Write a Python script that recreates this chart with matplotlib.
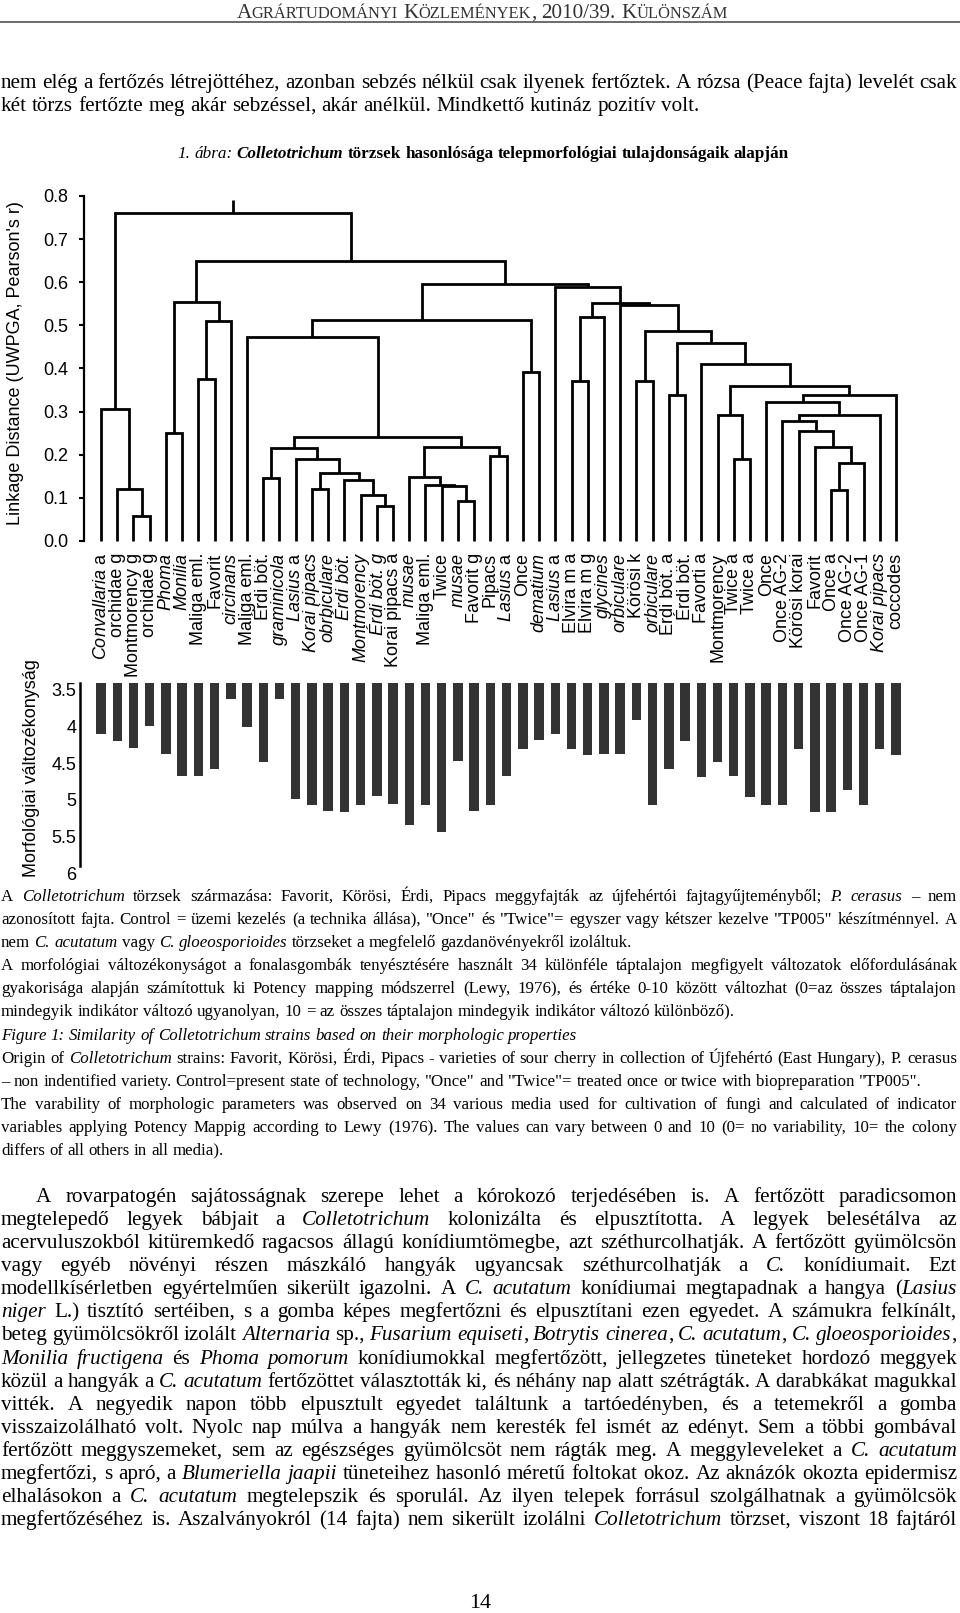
import numpy as np
import matplotlib
matplotlib.use("Agg")
import matplotlib.pyplot as plt
from matplotlib.font_manager import FontProperties
from matplotlib.transforms import blended_transform_factory, ScaledTranslation

plt.rcParams['font.family'] = 'Liberation Sans'
plt.rcParams['mathtext.fontset'] = 'custom'
plt.rcParams['mathtext.it'] = 'Liberation Sans:italic'
plt.rcParams['mathtext.rm'] = 'Liberation Sans'

# strains in the leaf order of the tree
strains = ["Convallaria a", "orchidae g", "Montmorency g", "orchidae g", "Phoma", "Monilia",
           "Maliga eml.", "Favorit", "circinans", "Maliga eml.", "Érdi böt.", "graminicola",
           "Lasius a", "Korai pipacs", "obrbiculare", "Érdi böt.", "Montmorency", "Érdi böt. g",
           "Korai pipacs a", "musae", "Maliga eml.", "Twice", "musae", "Favorit g",
           "Pipacs", "Lasius a", "Once", "dematium", "Lasius a", "Elvira m a", "Elvira m g",
           "glycines", "orbiculare", "Körösi k", "orbiculare", "Érdi böt. a", "Érdi böt.",
           "Favorti a", "Montmorency", "Twice a", "Twice a", "Once", "Once AG-2",
           "Körösi korai", "Favorit", "Once a", "Once AG-2", "Once AG-1", "Korai pipacs", "coccodes"]
# 0 = upright, 1 = first word italic, 2 = all italic
strain_italic = [1, 0, 0, 0, 2, 2,
                 0, 0, 2, 0, 0, 2,
                 1, 2, 2, 2, 2, 2,
                 0, 2, 0, 0, 2, 0,
                 0, 1, 0, 2, 1, 0, 0,
                 2, 2, 0, 2, 0, 0,
                 0, 0, 0, 0, 0, 0,
                 0, 0, 0, 0, 0, 2, 0]

# UPGMA merges: (child a, child b, linkage distance)
# 0..49 are strains, 50 + k is the cluster made in row k
links = [(2, 3, 0.058), (1, 50, 0.120), (0, 51, 0.306),
         (4, 5, 0.250), (6, 7, 0.375), (54, 8, 0.509), (53, 55, 0.555),
         (17, 18, 0.080), (16, 57, 0.107), (15, 58, 0.1415), (13, 14, 0.121),
         (60, 59, 0.158), (12, 61, 0.190), (10, 11, 0.1455), (63, 62, 0.215),
         (22, 23, 0.0935), (21, 65, 0.127), (20, 66, 0.131), (19, 67, 0.148),
         (24, 25, 0.196), (68, 69, 0.219), (64, 70, 0.241), (9, 71, 0.474),
         (26, 27, 0.393), (72, 73, 0.513),
         (29, 30, 0.372), (75, 31, 0.519), (33, 34, 0.372), (35, 36, 0.339),
         (39, 40, 0.190), (38, 79, 0.292), (45, 46, 0.118), (81, 47, 0.180),
         (44, 82, 0.217), (43, 83, 0.256), (42, 84, 0.279), (85, 48, 0.292),
         (41, 86, 0.323), (87, 49, 0.339), (80, 88, 0.360), (37, 89, 0.411),
         (78, 90, 0.459), (77, 91, 0.486), (32, 92, 0.548), (76, 93, 0.553),
         (28, 94, 0.590), (74, 95, 0.596), (56, 96, 0.650), (52, 97, 0.760)]
root_top = 0.79

# morphological variability per strain
variability = [4.19, 4.29, 4.39, 4.09, 4.47, 4.77, 4.77, 4.67, 3.72, 4.10, 4.58, 3.72,
               5.08, 5.16, 5.25, 5.26, 5.16, 5.05, 5.15, 5.44, 5.17, 5.54, 4.57, 5.25,
               5.17, 4.77, 4.40, 4.28, 4.20, 4.40, 4.48, 4.47, 4.47, 4.01, 5.16, 4.67,
               4.29, 4.78, 4.58, 4.77, 5.06, 5.16, 5.17, 4.40, 5.26, 5.26, 4.96, 5.16,
               4.40, 4.49]
dist_ticks = np.arange(0, 0.81, 0.1)
var_ticks = [3.5, 4, 4.5, 5, 5.5, 6]
var_ticklabels = ["3.5", "4", "4.5", "5", "5.5", "6"]

header = [("A", 'n'), ("GRÁRTUDOMÁNYI", 'S'), (" K", 'n'), ("ÖZLEMÉNYEK", 'S'),
          (", 2010/39. K", 'n'), ("ÜLÖNSZÁM", 'S')]

intro_lines = [
    ([("nem elég a fertőzés létrejöttéhez, azonban sebzés nélkül csak ilyenek fertőztek. A rózsa (Peace fajta) levelét csak", 'n')], 'justify'),
    ([("két törzs fertőzte meg akár sebzéssel, akár anélkül. Mindkettő kutináz pozitív volt.", 'n')], 'left'),
]

title = [("1. ábra: ", 'i'), ("Colletotrichum", 'bi'),
         (" törzsek hasonlósága telepmorfológiai tulajdonságaik alapján", 'b')]

caption_lines = [
    ([("A ", 'n'), ("Colletotrichum", 'i'), (" törzsek származása: Favorit, Körösi, Érdi, Pipacs meggyfajták az újfehértói fajtagyűjteményből; ", 'n'), ("P. cerasus", 'i'), (" – nem", 'n')], 'justify'),
    ([('azonosított fajta. Control = üzemi kezelés (a technika állása), "Once" és "Twice"= egyszer vagy kétszer kezelve "TP005" készítménnyel. A', 'n')], 'justify'),
    ([("nem ", 'n'), ("C. acutatum", 'i'), (" vagy ", 'n'), ("C. gloeosporioides", 'i'), (" törzseket a megfelelő gazdanövényekről izoláltuk.", 'n')], 'left'),
    ([("A morfológiai változékonyságot a fonalasgombák tenyésztésére használt 34 különféle táptalajon megfigyelt változatok előfordulásának", 'n')], 'justify'),
    ([("gyakorisága alapján számítottuk ki Potency mapping módszerrel (Lewy, 1976), és értéke 0-10 között változhat (0=az összes táptalajon", 'n')], 'justify'),
    ([("mindegyik indikátor változó ugyanolyan, 10 = az összes táptalajon mindegyik indikátor változó különböző).", 'n')], 'left'),
    ([("Figure 1: Similarity of Colletotrichum strains based on their morphologic properties", 'i')], 'left'),
    ([("Origin of ", 'n'), ("Colletotrichum", 'i'), (" strains: Favorit, Körösi, Érdi, Pipacs - varieties of sour cherry in collection of Újfehértó (East Hungary), P. cerasus", 'n')], 'justify'),
    ([('– non indentified variety. Control=present state of technology, "Once" and "Twice"= treated once or twice with biopreparation "TP005".', 'n')], 'left'),
    ([("The varability of morphologic parameters was observed on 34 various media used for cultivation of fungi and calculated of indicator", 'n')], 'justify'),
    ([("variables applying Potency Mappig according to Lewy (1976). The values can vary between 0 and 10 (0= no variability, 10= the colony", 'n')], 'justify'),
    ([("differs of all others in all media).", 'n')], 'left'),
]

body_lines = [
    [("A rovarpatogén sajátosságnak szerepe lehet a kórokozó terjedésében is. A fertőzött paradicsomon", 'n')],
    [("megtelepedő legyek bábjait a ", 'n'), ("Colletotrichum", 'i'), (" kolonizálta és elpusztította. A legyek belesétálva az", 'n')],
    [("acervuluszokból kitüremkedő ragacsos állagú konídiumtömegbe, azt széthurcolhatják. A fertőzött gyümölcsön", 'n')],
    [("vagy egyéb növényi részen mászkáló hangyák ugyancsak széthurcolhatják a ", 'n'), ("C.", 'i'), (" konídiumait. Ezt", 'n')],
    [("modellkísérletben egyértelműen sikerült igazolni. A ", 'n'), ("C. acutatum", 'i'), (" konídiumai megtapadnak a hangya (", 'n'), ("Lasius", 'i')],
    [("niger", 'i'), (" L.) tisztító sertéiben, s a gomba képes megfertőzni és elpusztítani ezen egyedet. A számukra felkínált,", 'n')],
    [("beteg gyümölcsökről izolált ", 'n'), ("Alternaria", 'i'), (" sp., ", 'n'), ("Fusarium equiseti", 'i'), (", ", 'n'), ("Botrytis cinerea", 'i'), (", ", 'n'), ("C. acutatum", 'i'), (", ", 'n'), ("C. gloeosporioides", 'i'), (",", 'n')],
    [("Monilia fructigena", 'i'), (" és ", 'n'), ("Phoma pomorum", 'i'), (" konídiumokkal megfertőzött, jellegzetes tüneteket hordozó meggyek", 'n')],
    [("közül a hangyák a ", 'n'), ("C. acutatum", 'i'), (" fertőzöttet választották ki, és néhány nap alatt szétrágták. A darabkákat magukkal", 'n')],
    [("vitték. A negyedik napon több elpusztult egyedet találtunk a tartóedényben, és a tetemekről a gomba", 'n')],
    [("visszaizolálható volt. Nyolc nap múlva a hangyák nem keresték fel ismét az edényt. Sem a többi gombával", 'n')],
    [("fertőzött meggyszemeket, sem az egészséges gyümölcsöt nem rágták meg. A meggyleveleket a ", 'n'), ("C. acutatum", 'i')],
    [("megfertőzi, s apró, a ", 'n'), ("Blumeriella jaapii", 'i'), (" tüneteihez hasonló méretű foltokat okoz. Az aknázók okozta epidermisz", 'n')],
    [("elhalásokon a ", 'n'), ("C. acutatum", 'i'), (" megtelepszik és sporulál. Az ilyen telepek forrásul szolgálhatnak a gyümölcsök", 'n')],
    [("megfertőzéséhez is. Aszalványokról (14 fajta) nem sikerült izolálni ", 'n'), ("Colletotrichum", 'i'), (" törzset, viszont 18 fajtáról", 'n')],
]

W, H = 960, 1613
fig = plt.figure(figsize=(W / 100, H / 100), dpi=100)
page = fig.add_axes([0, 0, 1, 1])
page.set_xlim(0, W)
page.set_ylim(H, 0)
page.axis('off')
renderer = fig.canvas.get_renderer()

SERIF = 'Liberation Serif'
STYLES = {'n': dict(style='normal', weight='normal'),
          'i': dict(style='italic', weight='normal'),
          'b': dict(style='normal', weight='bold'),
          'bi': dict(style='italic', weight='bold'),
          'S': dict(style='normal', weight='normal', scale=0.78)}


def metrics(s, prop):
    return renderer.get_text_width_height_descent(s, prop, ismath=False)


def adv(s, prop):
    # pen advance of s, measured between two flat-sided H glyphs
    return metrics('H' + s + 'H', prop)[0] - metrics('HH', prop)[0]


def baseline_shift(s, prop):
    # Agg snaps the glyph bitmap to whole pixels from its bbox; undo that so
    # every word lands on the same pixel baseline
    _, h, d = metrics(s, prop)
    k = np.floor(h) - np.floor(h - d)
    return k - d


def split_words(segs):
    words = [[]]
    for txt, st in segs:
        for k, part in enumerate(txt.split(' ')):
            if k:
                words.append([])
            if part:
                words[-1].append((part, st))
    return [w for w in words if w]


def build(segs, size, y, color='k'):
    y = round(y)
    words = []
    for w in split_words(segs):
        parts = []
        off = 0.0
        for txt, st in w:
            kw = dict(STYLES[st])
            scale = kw.pop('scale', 1.0)
            prop = FontProperties(family=SERIF, size=size * scale, **kw)
            t = page.text(0, y + baseline_shift(txt, prop), txt, fontproperties=prop,
                          va='baseline', ha='left', color=color)
            parts.append([t, off])
            off += adv(txt, prop)
        words.append((parts, off))
    return words


def space(size):
    return adv(' ', FontProperties(family=SERIF, size=size))


def fit(segs, target):
    words = build(segs, 10, 0)
    wd = sum(w[1] for w in words) + space(10) * (len(words) - 1)
    for parts, _ in words:
        for t, _ in parts:
            t.remove()
    return 10 * target / wd


def set_line(segs, size, y, x0, x1=None, mode='left', color='k'):
    words = build(segs, size, y, color)
    total = sum(w[1] for w in words)
    gap = space(size)
    if mode == 'justify' and len(words) > 1:
        gap = (x1 - x0 - total) / (len(words) - 1)
    x = x0
    if mode == 'center':
        x = x0 - (total + gap * (len(words) - 1)) / 2
    for parts, wd in words:
        for t, off in parts:
            t.set_x(x + off)
        x += wd + gap


def px_axes(left, top, right, bottom):
    return fig.add_axes([left / W, 1 - bottom / H, (right - left) / W, (bottom - top) / H])


LEAF0, LEAF_STEP = 101, 795 / 49


def leaf_xlim(left, right):
    return (left - LEAF0) / LEAF_STEP, (right - LEAF0) / LEAF_STEP


# page text
set_line(header, fit(header, 494), 18, 482, mode='center', color='#333333')
page.plot([0, W], [22, 22], color='#444444', lw=1.1)

body_size = fit(intro_lines[1][0], 697)
for k, (segs, mode) in enumerate(intro_lines):
    set_line(segs, body_size, 88 + 23.1 * k, 1, 957, mode)

set_line(title, fit(title, 615), 158, 483, mode='center')

cap_size = fit(caption_lines[5][0], 732)
for k, (segs, mode) in enumerate(caption_lines):
    set_line(segs, cap_size, 901 + 23.1 * k, 1, 957, mode)

for k, segs in enumerate(body_lines):
    x0 = 36 if k == 0 else 1
    set_line(segs, body_size, 1202 + 23.08 * k, x0, 957, 'justify')

set_line([("14", 'n')], body_size * 1.05, 1608, 480, mode='center')

# dendrogram
ax = px_axes(84, 196, 912, 541)
pos = list(range(len(strains)))
hgt = [0.0] * len(strains)
for a, b, d in links:
    ax.plot([pos[a], pos[a], pos[b], pos[b]], [hgt[a], d, d, hgt[b]], color='k', lw=2.0,
            solid_joinstyle='miter', solid_capstyle='butt', clip_on=False)
    pos.append((pos[a] + pos[b]) / 2)
    hgt.append(d)
ax.plot([pos[-1], pos[-1]], [hgt[-1], root_top], color='k', lw=2.0, solid_capstyle='butt')
ax.set_xlim(*leaf_xlim(84, 912))
ax.set_ylim(0, 0.8)
ax.set_xticks([])
ax.set_yticks(dist_ticks)
ax.set_yticklabels([f"{v:.1f}" for v in dist_ticks])
ax.tick_params(axis='y', length=3.6, width=1.5, pad=8, labelsize=13)
for s in ['top', 'right', 'bottom']:
    ax.spines[s].set_visible(False)
ax.spines['left'].set_linewidth(1.6)
ax.patch.set_alpha(0)

trans = blended_transform_factory(ax.transData, fig.transFigure)
for i, (name, it) in enumerate(zip(strains, strain_italic)):
    label = name
    if it == 1:
        first, rest = name.split(' ', 1)
        label = r'$\mathit{' + first + '}$ ' + rest
    ax.text(i, 1 - 553 / H, label, transform=trans, rotation=90, ha='center', va='top',
            fontsize=13, style='italic' if it == 2 else 'normal')

page.text(15.5, 363, "Linkage Distance (UWPGA, Pearson's r)", rotation=90,
          ha='center', va='center', fontsize=13)

# variability bars hanging from the top
bx = px_axes(80, 683, 912, 866)
bx.bar(range(len(variability)), np.array(variability) - 3.5, bottom=3.5, width=0.58,
       color='#333333')
bx.set_xlim(*leaf_xlim(80, 912))
bx.set_ylim(6, 3.5)
bx.set_xticks([])
bx.set_yticks(var_ticks)
bx.set_yticklabels(var_ticklabels)
bx.tick_params(axis='y', length=0, pad=2.5, labelsize=13)
for lab in bx.get_yticklabels():
    lab.set_transform(lab.get_transform() + ScaledTranslation(0, -7 / 100, fig.dpi_scale_trans))
for s in ['top', 'right', 'bottom']:
    bx.spines[s].set_visible(False)
bx.spines['left'].set_linewidth(1.8)
bx.patch.set_alpha(0)

page.text(32, 768, "Morfológiai változékonyság", rotation=90, ha='center', va='center',
          fontsize=13)

fig.savefig("out.png", dpi=100)
